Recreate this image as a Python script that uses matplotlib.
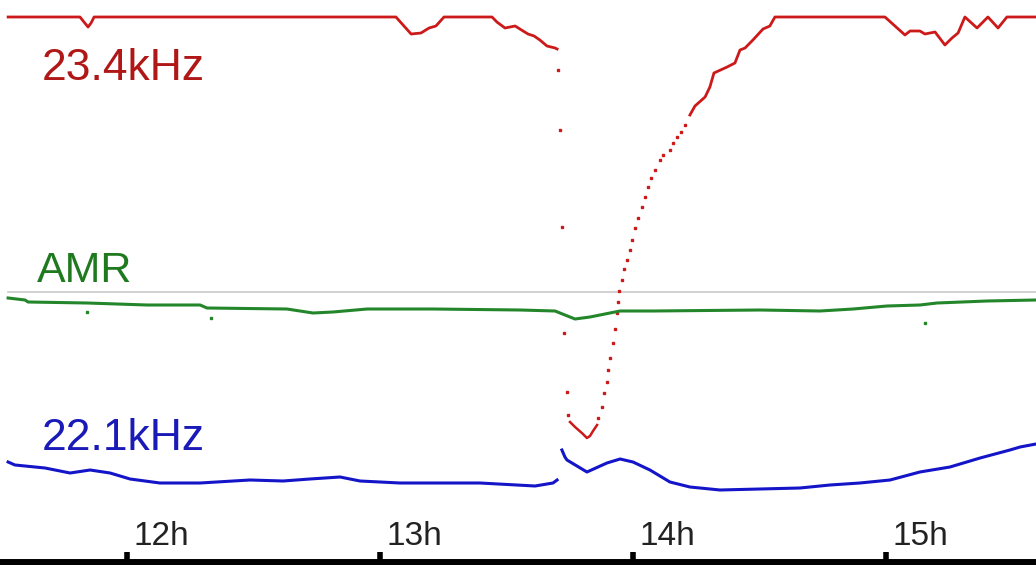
import matplotlib
matplotlib.use("Agg")
import matplotlib.pyplot as plt

# time axis in decimal hours (UT), levels in arbitrary units
# 23.4kHz - before the flare (continuous trace)
red_t1 = [11.530, 11.814, 11.830, 11.846, 11.858, 11.870, 13.063, 13.123, 13.162, 13.194,
          13.221, 13.253, 13.443, 13.462, 13.494, 13.534, 13.553, 13.585, 13.609, 13.632,
          13.660, 13.692, 13.700]
red_v1 = [548, 548, 543, 538, 542, 548, 548, 531, 532, 537,
          539, 548, 548, 543, 537, 539, 536, 531, 529, 525,
          519, 517, 516]
# sparse samples during the fast drop
red_t2 = [13.704, 13.711, 13.719, 13.727, 13.739, 13.743]
red_v2 = [495, 435, 338, 232, 173, 150]
# trough
red_t3 = [13.751, 13.771, 13.798, 13.818, 13.830, 13.842, 13.858]
red_v3 = [143, 138, 132, 127, 129, 134, 140]
# sparse samples during recovery
red_t4 = [13.862, 13.877, 13.885, 13.897, 13.901, 13.909, 13.921, 13.929, 13.937, 13.941,
          13.945, 13.957, 13.964, 13.976, 13.988, 13.996, 14.008, 14.020, 14.036, 14.047,
          14.059, 14.071, 14.087, 14.107, 14.119, 14.146, 14.158, 14.174, 14.190, 14.206]
red_v4 = [147, 158, 172, 183, 195, 207, 222, 236, 252, 263,
          274, 285, 296, 305, 315, 325, 337, 347, 358, 368,
          378, 387, 395, 405, 410, 415, 422, 428, 433, 440]
# after recovery
red_t5 = [14.225, 14.245, 14.285, 14.304, 14.320, 14.372, 14.403, 14.423, 14.443, 14.474,
          14.514, 14.541, 14.561, 14.996, 15.075, 15.095, 15.134, 15.154, 15.194, 15.233,
          15.261, 15.285, 15.312, 15.360, 15.403, 15.443, 15.478, 15.593]
red_v5 = [450, 459, 468, 478, 492, 498, 502, 515, 517, 525,
          536, 539, 548, 548, 530, 534, 534, 531, 533, 520,
          527, 532, 548, 537, 548, 537, 548, 548]

# AMR
amr_t = [11.530, 11.597, 11.609, 11.842, 12.079, 12.289, 12.316, 12.632, 12.735, 12.814,
         12.949, 13.209, 13.553, 13.692, 13.731, 13.771, 13.830, 13.909, 13.949, 14.079,
         14.502, 14.739, 14.870, 15.004, 15.134, 15.202, 15.399, 15.593]
amr_v = [267, 265, 263, 262, 260, 260, 257, 256, 252, 253,
         256, 256, 255, 254, 250, 246, 248, 252, 254, 254,
         255, 254, 256, 259, 260, 262, 264, 265]
amr_spike_t = [11.842, 12.332, 15.154]
amr_spike_v = [253, 247, 242]
amr_ref = 273

# 22.1kHz
blue_t1 = [11.530, 11.557, 11.676, 11.775, 11.854, 11.933, 12.012, 12.130, 12.289, 12.486,
           12.617, 12.723, 12.842, 12.921, 13.079, 13.395, 13.613, 13.684, 13.700]
blue_v1 = [103, 100, 97, 92, 95, 92, 86, 82, 82, 85,
           84, 86, 88, 84, 82, 82, 79, 82, 85]
blue_t2 = [13.719, 13.731, 13.739, 13.818, 13.897, 13.949, 14.000, 14.067, 14.146, 14.225,
           14.344, 14.502, 14.660, 14.779, 14.897, 15.016, 15.134, 15.253, 15.372, 15.490,
           15.530, 15.593]
blue_v2 = [115, 108, 105, 93, 102, 106, 103, 95, 83, 78,
           75, 76, 77, 80, 82, 85, 93, 98, 107, 115,
           118, 121]

hours = [12, 13, 14, 15]
hour_labels = ["12h", "13h", "14h", "15h"]

red = "#cc1a1a"
green = "#23862a"
blue = "#1414c8"

fig = plt.figure(figsize=(10.36, 5.65), dpi=100)
ax = fig.add_axes([0, 0, 1, 1])
ax.set_xlim(11.498, 15.593)
ax.set_ylim(0, 565)

ax.plot([amr_t[0], amr_t[-1]], [amr_ref, amr_ref], color="#c8c8c8", lw=1.2)

ax.plot(red_t1, red_v1, color=red, lw=2)
ax.plot(red_t2, red_v2, ls="none", marker="s", ms=1.8, color=red)
ax.plot(red_t3, red_v3, color=red, lw=1.8)
ax.plot(red_t4, red_v4, ls="none", marker="s", ms=1.8, color=red)
ax.plot(red_t5, red_v5, color=red, lw=2)

ax.plot(amr_t, amr_v, color=green, lw=2.2)
ax.plot(amr_spike_t, amr_spike_v, ls="none", marker="s", ms=1.8, color=green)

ax.plot(blue_t1, blue_v1, color=blue, lw=2.2)
ax.plot(blue_t2, blue_v2, color=blue, lw=2.2)

font = ["Liberation Sans", "DejaVu Sans"]
ax.text(11.662, 485, "23.4kHz", color="#b01818", fontsize=32, family=font, va="baseline")
ax.text(11.642, 283, "AMR", color="#1f7a1f", fontsize=31, family=font, va="baseline")
ax.text(11.662, 115, "22.1kHz", color="#1a1ab8", fontsize=32, family=font, va="baseline")

for h, lab in zip(hours, hour_labels):
    ax.text(h + 0.024, 20, lab, color="#222222", fontsize=24,
            family=["Liberation Sans Narrow", "Liberation Sans"], va="baseline")

# baseline with hour ticks
for s in ["top", "left", "right"]:
    ax.spines[s].set_visible(False)
ax.spines["bottom"].set_position(("data", 3.5))
ax.spines["bottom"].set_linewidth(5)
ax.set_xticks(hours)
ax.set_xticklabels([])
ax.tick_params(axis="x", direction="in", length=7, width=4, color="black")
ax.set_yticks([])

fig.savefig("out.png", dpi=100)
